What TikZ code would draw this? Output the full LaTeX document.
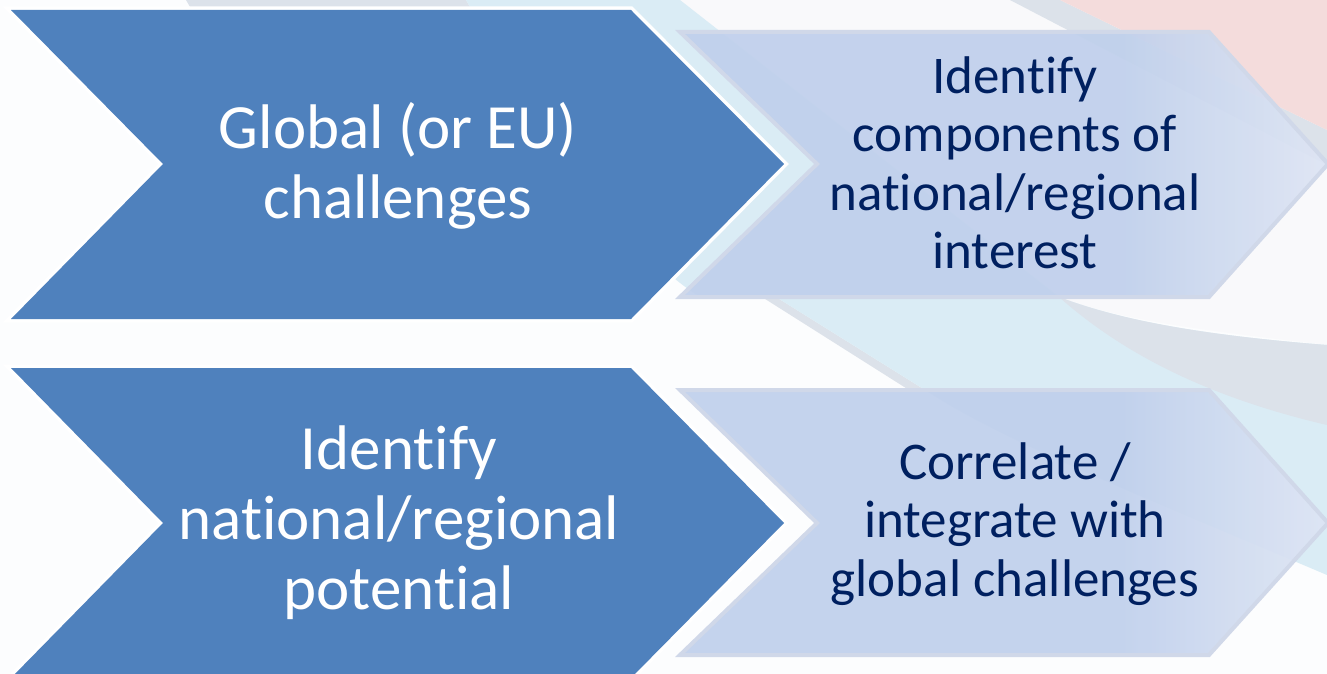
\documentclass[tikz,border=0pt]{standalone}
\usepackage{fontspec}
\setmainfont{Carlito}[Ligatures={NoCommon}]
\definecolor{darkblue}{RGB}{79,129,189}
\definecolor{lightfill}{RGB}{192,208,236}
\definecolor{lightend}{RGB}{222,229,244}
\definecolor{lightedge}{RGB}{208,216,233}
\definecolor{navy}{RGB}{0,32,96}
\definecolor{swblue}{RGB}{218,236,245}
\definecolor{swgrey}{RGB}{220,226,234}
\definecolor{swpink}{RGB}{244,220,220}
\definecolor{offwhite}{RGB}{249,249,251}
\definecolor{paper}{RGB}{252,253,254}
\pgfdeclarehorizontalshading{lightchev}{100bp}{color(0bp)=(lightfill); color(25bp)=(lightfill); color(59bp)=(lightfill); color(75bp)=(lightend); color(100bp)=(lightend)}
\tikzset{
  darkchev/.style={fill=darkblue, preaction={draw=white, line width=7pt, line join=miter}},
  lightchev/.style={shading=lightchev, fill opacity=0.93, draw=lightedge, line width=4pt, line join=miter},
  darktext/.style={text=white, align=center, inner sep=0pt, font=\fontsize{63}{70}\selectfont},
  lighttext/.style={text=navy, align=center, inner sep=0pt, font=\fontsize{53}{58.5}\selectfont}
}
\begin{document}
\begin{tikzpicture}[x=1pt, y=-1pt]
\useasboundingbox (0,0) rectangle (1327,674);
% background
\fill[paper] (0,0) rectangle (1327,674);
% off-white area between swooshes
\fill[offwhite] (660,0) -- (1010,0) -- (1327,165) -- (1327,345) .. controls (1200,330) and (1120,320) .. (1059,297) -- cycle;
% grey band left of the blue swoosh (top part and narrow stripe between the rows)
\fill[swgrey] (186,0) -- (466,0) -- (480,24) -- (200,24) -- cycle;
\fill[swgrey] (762,297) -- (776,297) -- (925,390) -- (909,390) -- cycle;
% light blue swoosh
\fill[swblue] (466,0) -- (680,0) -- (1059,297) .. controls (1120,320) and (1200,335) .. (1327,345) -- (1327,575) .. controls (1150,500) and (1000,440) .. (925,390) -- (776,297) -- (700,297) .. controls (640,260) and (560,160) .. (466,0) -- cycle;
% grey band above the right part of the blue swoosh
\fill[swgrey] (1059,297) .. controls (1120,320) and (1200,335) .. (1327,345) -- (1327,425) .. controls (1220,400) and (1130,360) .. (1059,297) -- cycle;
% pink swoosh with grey edge
\fill[swgrey] (1010,0) -- (1060,0) -- (1327,130) -- (1327,165) -- cycle;
\fill[swpink] (1060,0) -- (1327,0) -- (1327,130) -- cycle;
% light chevrons
\path[lightchev] (680,32) -- (1209,32) -- (1328,164) -- (1209,297) -- (680,297) -- (817,164) -- cycle;
\path[lightchev] (680,390) -- (1209,390) -- (1328,523) -- (1209,655) -- (680,655) -- (817,523) -- cycle;
% dark chevrons
\path[darkchev] (11,10) -- (631,10) -- (784,164) -- (631,319) -- (11,319) -- (163,164) -- cycle;
\path[darkchev] (11,368) -- (631,368) -- (784,523) -- (631,678) -- (11,678) -- (163,523) -- cycle;
% texts
\node[darktext] (global) at (398,166) {Global (or EU)\\challenges};
\node[darktext] (potential) at (399,523) {Identify\\national/regional\\potential};
\node[lighttext] (components) at (1015,163) {Identify\\components of\\national/regional\\interest};
\node[lighttext] (correlate) at (1015,524) {Correlate /\\integrate with\\global challenges};
\end{tikzpicture}
\end{document}
